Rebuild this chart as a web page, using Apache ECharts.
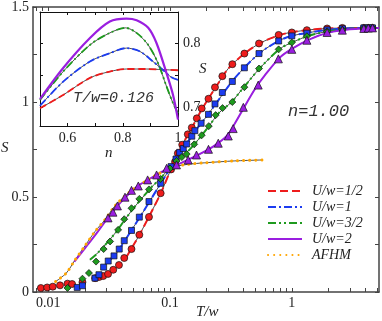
<!DOCTYPE html>
<html>
<head>
<meta charset="UTF-8">
<title>S vs T/w</title>
<script src="https://cdn.jsdelivr.net/npm/echarts@6/dist/echarts.min.js"></script>
</head>
<body style="margin:0">
<div id="main" style="width:382px;height:321px"></div>
<script>
// main plot: markers [T/w, S]
var redPts = [[0.0087,0.021],[0.0098,0.024],[0.0109,0.028],[0.0125,0.035],[0.0144,0.044],[0.0157,0.042],[0.0191,0.052],[0.0243,0.073],[0.0262,0.079],[0.0283,0.084],[0.031,0.095],[0.0342,0.117],[0.0381,0.142],[0.0421,0.179],[0.0483,0.226],[0.056,0.301],[0.0672,0.395],[0.0838,0.52],[0.102,0.645],[0.11,0.685],[0.116,0.73],[0.126,0.775],[0.14,0.83],[0.151,0.865],[0.166,0.914],[0.182,0.966],[0.207,1.017],[0.234,1.077],[0.269,1.136],[0.325,1.199],[0.408,1.255],[0.538,1.308],[0.78,1.353],[1.0,1.366],[1.33,1.378],[1.95,1.387],[2.6,1.39],[3.9,1.39],[4.25,1.39],[4.6,1.39]];
var bluePts = [[0.0173,0.024],[0.0191,0.033],[0.0242,0.073],[0.0261,0.091],[0.0285,0.131],[0.0311,0.163],[0.0347,0.19],[0.0383,0.226],[0.0421,0.27],[0.0483,0.324],[0.056,0.394],[0.0672,0.476],[0.0837,0.572],[0.102,0.66],[0.112,0.7],[0.12,0.735],[0.1285,0.755],[0.137,0.779],[0.151,0.82],[0.16,0.849],[0.18,0.888],[0.207,0.935],[0.234,0.99],[0.269,1.05],[0.325,1.108],[0.408,1.18],[0.538,1.255],[0.78,1.321],[1.0,1.348],[1.33,1.362],[1.95,1.38],[2.6,1.386],[3.9,1.39],[4.25,1.39],[4.6,1.39]];
var greenPts = [[0.0144,0.021],[0.0191,0.07],[0.0216,0.1],[0.0247,0.16],[0.0285,0.226],[0.0322,0.266],[0.0375,0.327],[0.0421,0.383],[0.0483,0.441],[0.056,0.49],[0.0672,0.54],[0.0837,0.595],[0.1,0.65],[0.113,0.69],[0.125,0.71],[0.137,0.726],[0.158,0.777],[0.182,0.825],[0.208,0.873],[0.237,0.931],[0.27,0.968],[0.325,1.0],[0.408,1.078],[0.538,1.176],[0.78,1.277],[1.0,1.313],[1.33,1.346],[1.95,1.372],[2.6,1.38],[3.9,1.388],[4.25,1.39],[4.6,1.39]];
var purplePts = [[0.031,0.39],[0.034,0.42],[0.037,0.453],[0.0427,0.499],[0.0483,0.535],[0.0549,0.558],[0.0655,0.59],[0.0776,0.616],[0.0938,0.651],[0.113,0.669],[0.141,0.695],[0.165,0.721],[0.207,0.751],[0.249,0.783],[0.301,0.821],[0.33,0.86],[0.40,0.972],[0.53,1.089],[0.776,1.227],[1.0,1.277],[1.33,1.325],[1.95,1.366],[2.6,1.378],[3.9,1.387],[4.25,1.389],[4.6,1.39]];

// main plot: curves [T/w, S]
var redLine = [[0.0435,0.18],[0.048,0.226],[0.056,0.3],[0.067,0.395],[0.084,0.52],[0.1,0.635],[0.115,0.72],[0.13,0.79],[0.15,0.86],[0.18,0.955],[0.21,1.025],[0.25,1.1],[0.3,1.175],[0.4,1.25],[0.55,1.31],[0.8,1.353],[1.0,1.367],[1.4,1.38],[2,1.387],[3,1.39],[5.2,1.39]];
var blueLine = [[0.03,0.16],[0.035,0.19],[0.042,0.265],[0.05,0.34],[0.06,0.42],[0.07,0.49],[0.084,0.572],[0.1,0.65],[0.12,0.73],[0.14,0.79],[0.16,0.845],[0.2,0.925],[0.25,1.01],[0.32,1.105],[0.4,1.175],[0.55,1.26],[0.8,1.325],[1,1.348],[1.4,1.366],[2,1.38],[3,1.388],[5.2,1.39]];
var greenLine = [[0.022,0.17],[0.025,0.2],[0.03,0.255],[0.036,0.315],[0.042,0.375],[0.05,0.44],[0.06,0.5],[0.07,0.55],[0.084,0.6],[0.1,0.655],[0.125,0.71],[0.15,0.76],[0.18,0.82],[0.21,0.875],[0.25,0.94],[0.32,1.0],[0.4,1.075],[0.55,1.18],[0.8,1.28],[1,1.313],[1.4,1.35],[2,1.372],[3,1.385],[5.2,1.39]];
var purpleLine = [[0.0164,0.16],[0.02,0.23],[0.025,0.31],[0.03,0.38],[0.037,0.453],[0.045,0.51],[0.055,0.56],[0.07,0.6],[0.09,0.64],[0.11,0.665],[0.14,0.695],[0.2,0.745],[0.25,0.785],[0.3,0.83],[0.35,0.9],[0.4,0.965],[0.5,1.07],[0.6,1.14],[0.8,1.235],[1,1.28],[1.4,1.33],[2,1.365],[3,1.383],[5.2,1.39]];
var afhmLine = [[0.0115,0.055],[0.0141,0.1],[0.0165,0.166],[0.0197,0.236],[0.0242,0.318],[0.0292,0.38],[0.0353,0.453],[0.0469,0.528],[0.0623,0.581],[0.0854,0.63],[0.11,0.66],[0.141,0.672],[0.193,0.68],[0.34,0.69],[0.58,0.695]];

// inset: S vs n at T/w=0.126
var redInset = [[0.5,0.698],[0.584,0.719],[0.681,0.746],[0.753,0.756],[0.813,0.76],[0.885,0.76],[0.945,0.759],[1.0,0.758]];
var blueInset = [[0.5,0.702],[0.584,0.74],[0.681,0.772],[0.753,0.785],[0.813,0.793],[0.861,0.788],[0.909,0.772],[0.952,0.756],[0.976,0.747],[1.0,0.743]];
var greenInset = [[0.5,0.711],[0.584,0.756],[0.681,0.798],[0.753,0.817],[0.81,0.825],[0.85,0.817],[0.892,0.798],[0.928,0.769],[0.958,0.733],[0.982,0.706],[1.0,0.69]];
var purpleInset = [[0.5,0.7126],[0.584,0.7616],[0.681,0.809],[0.753,0.835],[0.813,0.8395],[0.85,0.837],[0.892,0.825],[0.922,0.801],[0.958,0.754],[0.982,0.719],[1.0,0.68]];

var names = ['U/w=1/2','U/w=1','U/w=3/2','U/w=2','AFHM'];
var colors = ['#ee1c1c','#1c3cf0','#1e9a1e','#9a1ee0','#ffa500'];
var xTickVals = [0.008,0.009,0.01,0.02,0.03,0.04,0.05,0.06,0.07,0.08,0.09,0.1,0.2,0.3,0.4,0.5,0.6,0.7,0.8,0.9,1,2,3,4,5];
var xLabelVals = [0.01,0.1,1];
var xLabelText = ['0.01','0.1','1'];

var serif = 'Liberation Serif';
var mono = 'Liberation Mono';
var axisCol = '#444';

var mychart = echarts.init(document.getElementById('main'));

function lineSeries(name, data, color, dash, width, xi, yi) {
  return {
    name: name, type: 'line', data: data, xAxisIndex: xi, yAxisIndex: yi,
    smooth: 0.3, showSymbol: false, symbol: 'none', z: 2,
    lineStyle: {color: color, width: width, type: dash},
    itemStyle: {color: color}
  };
}
// thin black curve under each coloured one
function blackSeries(data, xi, yi) {
  return {
    type: 'line', data: data, xAxisIndex: xi, yAxisIndex: yi, smooth: 0.3,
    showSymbol: false, symbol: 'none', z: 1, silent: true,
    lineStyle: {color: '#222', width: 0.8}
  };
}
function markSeries(data, color, symbol, size, xi, yi) {
  return {
    type: 'line', data: data, xAxisIndex: xi, yAxisIndex: yi,
    lineStyle: {width: 0}, symbol: symbol, symbolSize: size, z: 4,
    itemStyle: {color: color, borderColor: '#111', borderWidth: 0.7}
  };
}
function xLabelFmt(v) {
  for (var i = 0; i < xLabelVals.length; i++) {
    if (Math.abs(Math.log10(v) - Math.log10(xLabelVals[i])) < 0.01) return xLabelText[i];
  }
  return '';
}

var dashes = ['dashed', [8,3,2,3], [8,3,2,3,2,3], 'solid', [0.1,6]];

var option = {
  animation: false,
  grid: [
    {left: 33, top: 7, right: 3, bottom: 29},
    {left: 40, top: 12, width: 138, height: 114, show: true, backgroundColor: '#fff', borderWidth: 0}
  ],
  xAxis: [
    {type: 'log', gridIndex: 0, position: 'bottom', min: 0.0075, max: 5.2,
     axisLine: {onZero: false, lineStyle: {color: axisCol, width: 1.5}},
     axisTick: {inside: true, length: 4, customValues: xTickVals, lineStyle: {color: axisCol}},
     axisLabel: {customValues: xLabelVals, formatter: xLabelFmt, margin: 4, color: '#222', fontFamily: serif, fontSize: 14},
     splitLine: {show: false}},
    {type: 'log', gridIndex: 0, position: 'top', min: 0.0075, max: 5.2,
     axisLine: {onZero: false, lineStyle: {color: axisCol, width: 1.5}},
     axisTick: {inside: true, length: 4, customValues: xTickVals, lineStyle: {color: axisCol}},
     axisLabel: {show: false}, splitLine: {show: false}},
    {type: 'value', gridIndex: 1, position: 'bottom', min: 0.5, max: 1, interval: 0.1,
     axisLine: {onZero: false, lineStyle: {color: '#111', width: 1}},
     axisTick: {inside: true, length: 3, lineStyle: {color: '#111'}},
     axisLabel: {margin: 5, color: '#222', fontFamily: serif, fontSize: 14,
       formatter: function (v) { var k = Math.round(v * 10); return k % 2 ? '' : (k === 10 ? '1' : v.toFixed(1)); }},
     splitLine: {show: false}},
    {type: 'value', gridIndex: 1, position: 'top', min: 0.5, max: 1, interval: 0.1,
     axisLine: {onZero: false, lineStyle: {color: '#111', width: 1}},
     axisTick: {inside: true, length: 3, lineStyle: {color: '#111'}},
     axisLabel: {show: false}, splitLine: {show: false}}
  ],
  yAxis: [
    {type: 'value', gridIndex: 0, position: 'left', min: 0, max: 1.5, interval: 0.25,
     axisLine: {onZero: false, lineStyle: {color: axisCol, width: 1.5}},
     axisTick: {inside: true, length: 4, lineStyle: {color: axisCol}},
     axisLabel: {margin: 4, color: '#222', fontFamily: serif, fontSize: 14,
       formatter: function (v) { return Math.round(v * 4) % 2 ? '' : String(v); }},
     splitLine: {show: false}},
    {type: 'value', gridIndex: 0, position: 'right', min: 0, max: 1.5, interval: 0.25,
     axisLine: {onZero: false, lineStyle: {color: axisCol, width: 1.5}},
     axisTick: {inside: true, length: 4, lineStyle: {color: axisCol}},
     axisLabel: {show: false}, splitLine: {show: false}},
    {type: 'value', gridIndex: 1, position: 'right', min: 0.67, max: 0.85,
     axisLine: {onZero: false, lineStyle: {color: '#111', width: 1}},
     axisTick: {inside: true, length: 3, customValues: [0.7,0.75,0.8], lineStyle: {color: '#111'}},
     axisLabel: {customValues: [0.7,0.8], margin: 5, color: '#222', fontFamily: serif, fontSize: 14},
     splitLine: {show: false}},
    {type: 'value', gridIndex: 1, position: 'left', min: 0.67, max: 0.85,
     axisLine: {onZero: false, lineStyle: {color: '#111', width: 1}},
     axisTick: {inside: true, length: 3, customValues: [0.7,0.75,0.8], lineStyle: {color: '#111'}},
     axisLabel: {show: false}, splitLine: {show: false}}
  ],
  legend: {
    left: 262, top: 179, orient: 'vertical', itemWidth: 34, itemHeight: 12, itemGap: 2,
    data: names, selectedMode: false,
    itemStyle: {color: 'rgba(0,0,0,0)', borderWidth: 0},
    textStyle: {fontFamily: serif, fontStyle: 'italic', fontSize: 14, color: '#222', padding: [0,0,0,5]}
  },
  series: [
    blackSeries(redLine, 0, 0),
    blackSeries(blueLine, 0, 0),
    blackSeries(greenLine, 0, 0),
    blackSeries(purpleLine, 0, 0),
    blackSeries(afhmLine, 0, 0),
    lineSeries(names[0], redLine, colors[0], dashes[0], 2, 0, 0),
    lineSeries(names[1], blueLine, colors[1], dashes[1], 2, 0, 0),
    lineSeries(names[2], greenLine, colors[2], dashes[2], 2, 0, 0),
    lineSeries(names[3], purpleLine, colors[3], dashes[3], 2, 0, 0),
    {name: names[4], type: 'line', data: afhmLine, xAxisIndex: 0, yAxisIndex: 0, smooth: 0.3,
     showSymbol: false, symbol: 'none', z: 3,
     lineStyle: {color: colors[4], width: 3, type: dashes[4], cap: 'round'}, itemStyle: {color: colors[4]}},
    markSeries(redPts, colors[0], 'circle', 7, 0, 0),
    markSeries(bluePts, colors[1], 'rect', 6, 0, 0),
    markSeries(greenPts, colors[2], 'diamond', 7, 0, 0),
    markSeries(purplePts, colors[3], 'triangle', 8, 0, 0),
    blackSeries(redInset, 2, 2),
    blackSeries(blueInset, 2, 2),
    blackSeries(greenInset, 2, 2),
    lineSeries('i1', redInset, colors[0], dashes[0], 1.8, 2, 2),
    lineSeries('i2', blueInset, colors[1], dashes[1], 1.8, 2, 2),
    lineSeries('i3', greenInset, colors[2], dashes[2], 1.8, 2, 2),
    lineSeries('i4', purpleInset, colors[3], dashes[3], 2.2, 2, 2)
  ],
  graphic: [
    {type: 'text', left: 288, top: 103, z: 10, style: {text: 'n=1.00', font: 'italic 17px ' + mono, fill: '#333'}},
    {type: 'text', left: 73, top: 91, z: 10, style: {text: 'T/w=0.126', font: 'italic 15px ' + mono, fill: '#333'}},
    {type: 'text', left: 1, top: 141, z: 10, style: {text: 'S', font: 'italic 15px ' + serif, fill: '#222'}},
    {type: 'text', left: 196, top: 305, z: 10, style: {text: 'T/w', font: 'italic 15px ' + serif, fill: '#222'}},
    {type: 'text', left: 105, top: 146, z: 10, style: {text: 'n', font: 'italic 15px ' + serif, fill: '#222'}},
    {type: 'text', left: 199, top: 62, z: 10, style: {text: 'S', font: 'italic 15px ' + serif, fill: '#222'}}
  ]
};
mychart.setOption(option);
</script>
</body>
</html>
